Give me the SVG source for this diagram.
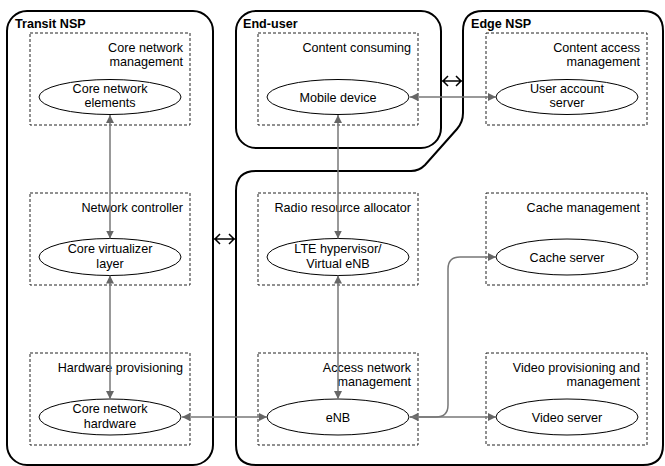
<svg xmlns="http://www.w3.org/2000/svg" width="665" height="466" viewBox="0 0 665 466">
<style>
.cont{fill:none;stroke:#000;stroke-width:2}
.title{font-family:"Liberation Sans",Arial,sans-serif;font-size:12.6px;font-weight:bold;fill:#000}
.box{fill:none;stroke:#222;stroke-width:1;stroke-dasharray:3,2}
.lbl{font-family:"Liberation Sans",Arial,sans-serif;font-size:12.6px;fill:#000;text-anchor:end}
.ell{fill:#fff;stroke:#000;stroke-width:1}
.et{font-family:"Liberation Sans",Arial,sans-serif;font-size:12.6px;fill:#000;text-anchor:middle}
.conn{fill:none;stroke:#777;stroke-width:1.5}
.dbl{fill:none;stroke:#000;stroke-width:1.5}
</style>
<defs>
<marker id="ah" viewBox="0 0 10 10" refX="10" refY="5" markerWidth="8" markerHeight="8" markerUnits="userSpaceOnUse" orient="auto-start-reverse">
<path d="M0,0 L10,5 L0,10 Z" fill="#666"/>
</marker>
</defs>

<g id="containers">
<g id="transit-nsp">
<rect class="cont" x="7" y="11" width="206" height="454" rx="20" ry="20"/>
<text class="title" x="15" y="28">Transit NSP</text>
</g>
<g id="end-user">
<rect class="cont" x="236" y="11" width="205" height="137" rx="20" ry="20"/>
<text class="title" x="243" y="28">End-user</text>
</g>
<g id="edge-nsp">
<path class="cont" d="M483 11 H643 Q663 11 663 31 V445 Q663 465 643 465 H256 Q236 465 236 445 V191 Q236 171 256 171 H411 Q419 171 425 165 L457 129 Q463 122 463 113 V31 Q463 11 483 11 Z"/>
<text class="title" x="471" y="28">Edge NSP</text>
</g>
</g>

<g id="n-core-mgmt">
<rect class="box" x="30" y="33" width="160" height="92"/>
<text class="lbl" x="183" y="52">Core network</text>
<text class="lbl" x="183" y="65.5">management</text>
<ellipse class="ell" cx="110" cy="97" rx="71" ry="17.5"/>
<text class="et" x="110" y="93">Core network</text>
<text class="et" x="110" y="107">elements</text>
</g>
<g id="n-net-ctrl">
<rect class="box" x="30" y="193" width="160" height="92"/>
<text class="lbl" x="183" y="212">Network controller</text>
<ellipse class="ell" cx="110" cy="257" rx="71" ry="18.5"/>
<text class="et" x="110" y="253">Core virtualizer</text>
<text class="et" x="110" y="268">layer</text>
</g>
<g id="n-hw-prov">
<rect class="box" x="30" y="353" width="160" height="92"/>
<text class="lbl" x="183" y="372">Hardware provisioning</text>
<ellipse class="ell" cx="110" cy="417" rx="71" ry="18"/>
<text class="et" x="110" y="413">Core network</text>
<text class="et" x="110" y="428">hardware</text>
</g>
<g id="n-content-consuming">
<rect class="box" x="258" y="33" width="160" height="92"/>
<text class="lbl" x="411" y="52">Content consuming</text>
<ellipse class="ell" cx="338" cy="97" rx="71" ry="17.5"/>
<text class="et" x="338" y="101.5">Mobile device</text>
</g>
<g id="n-radio">
<rect class="box" x="258" y="193" width="160" height="92"/>
<text class="lbl" x="411" y="212">Radio resource allocator</text>
<ellipse class="ell" cx="338" cy="257" rx="71" ry="18.5"/>
<text class="et" x="338" y="253">LTE hypervisor/</text>
<text class="et" x="338" y="268">Virtual eNB</text>
</g>
<g id="n-access">
<rect class="box" x="258" y="353" width="160" height="92"/>
<text class="lbl" x="411" y="372">Access network</text>
<text class="lbl" x="411" y="385.5">management</text>
<ellipse class="ell" cx="338" cy="417" rx="71" ry="18"/>
<text class="et" x="338" y="421.5">eNB</text>
</g>
<g id="n-content-access">
<rect class="box" x="486" y="33" width="161" height="92"/>
<text class="lbl" x="640" y="52">Content access</text>
<text class="lbl" x="640" y="65.5">management</text>
<ellipse class="ell" cx="567" cy="97" rx="71" ry="17.5"/>
<text class="et" x="567" y="93">User account</text>
<text class="et" x="567" y="107">server</text>
</g>
<g id="n-cache">
<rect class="box" x="486" y="193" width="161" height="92"/>
<text class="lbl" x="640" y="212">Cache management</text>
<ellipse class="ell" cx="567" cy="257" rx="71" ry="18"/>
<text class="et" x="567" y="261.5">Cache server</text>
</g>
<g id="n-video">
<rect class="box" x="486" y="353" width="161" height="92"/>
<text class="lbl" x="640" y="372">Video provisioning and</text>
<text class="lbl" x="640" y="385.5">management</text>
<ellipse class="ell" cx="567" cy="417" rx="71" ry="18"/>
<text class="et" x="567" y="421.5">Video server</text>
</g>

<g id="connectors">
<path class="conn" d="M110 115 V238.5" marker-start="url(#ah)" marker-end="url(#ah)"/>
<path class="conn" d="M110 275.5 V399" marker-start="url(#ah)" marker-end="url(#ah)"/>
<path class="conn" d="M338 115 V238.5" marker-start="url(#ah)" marker-end="url(#ah)"/>
<path class="conn" d="M338 275.5 V399" marker-start="url(#ah)" marker-end="url(#ah)"/>
<path class="conn" d="M410 97 H496" marker-start="url(#ah)" marker-end="url(#ah)"/>
<path class="conn" d="M182 417 H267" marker-start="url(#ah)" marker-end="url(#ah)"/>
<path class="conn" d="M410 417 H496" marker-start="url(#ah)" marker-end="url(#ah)"/>
<path class="conn" d="M410 417 H436 Q448 417 448 405 V269 Q448 257 460 257 H496" marker-end="url(#ah)"/>
<g id="peer-links">
<path class="dbl" d="M214 239 H235 M220 234 L215 239 L220 244 M229 234 L234 239 L229 244"/>
<path class="dbl" d="M442 81 H462 M448 76 L443 81 L448 86 M456 76 L461 81 L456 86"/>
</g>
</g>
</svg>
